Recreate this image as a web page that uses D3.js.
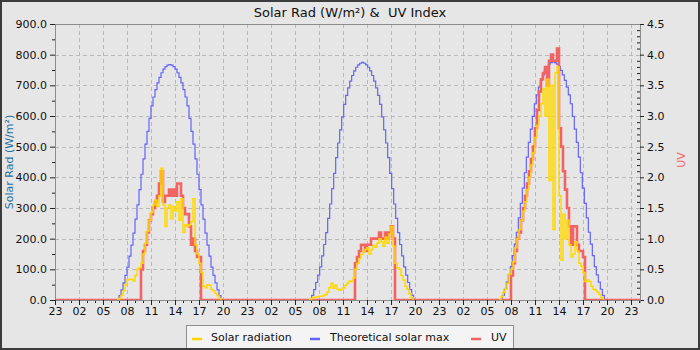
<!DOCTYPE html>
<html>
<head>
<meta charset="utf-8">
<script src="https://cdn.jsdelivr.net/npm/d3@7"></script>
<style>
  html, body { margin: 0; padding: 0; background: #e6e6e6; }
  svg { display: block; }
  text { font-family: "DejaVu Sans", sans-serif; }
</style>
</head>
<body>
<svg id="chart" width="700" height="350"></svg>
<script>
// ---- data (15-minute archive records, W/m² and UV index) ----
const rangeStart = "2024-06-10T23:00";
const rangeHours = 73.125;

const seriesNames = ["Solar radiation", "Theoretical solar max", "UV"];

const maxStart = ["2024-06-11T06:45", "2024-06-12T06:50", "2024-06-13T06:40"];
const maxDay1 = [0,14,33,56,80,107,143,179,218,264,310,360,410,460,508,550,592,633,662,686,708,726,741,753,761,766,768,766,761,753,741,726,708,686,662,633,592,550,508,460,410,360,310,264,218,179,143,107,80,56,33,14,0];
const maxDay2 = [0,15,34,57,81,108,144,181,220,266,313,363,413,464,512,555,597,638,667,692,714,732,747,759,767,772,775,772,767,759,747,732,714,692,667,638,597,555,512,464,413,363,313,266,220,181,144,108,81,57,34,15,0];
const maxDay3 = [0,15,35,58,82,109,145,182,221,268,315,365,415,466,514,557,599,640,669,694,716,734,749,761,769,774,777,774,769,761,749,734,716,694,669,640,599,557,514,466,415,365,315,268,221,182,145,109,82,58,35,15,0];

const solarStart = ["2024-06-11T06:45", "2024-06-12T06:45", "2024-06-13T06:30"];
const solarDay1 = [0,5,15,30,50,65,68,68,62,80,100,105,120,150,185,225,260,285,310,325,305,340,430,310,240,300,310,265,305,290,320,260,330,220,245,240,245,255,330,180,150,120,90,45,40,50,48,35,30,22,15,5,0];
const solarDay2 = [0,5,8,10,10,12,12,15,18,25,40,55,38,48,35,32,35,40,48,55,62,60,72,100,120,135,148,158,165,170,150,165,178,172,185,200,190,175,205,185,215,240,175,120,105,100,80,65,45,35,20,8,0];
const solarDay3 = [0,10,25,35,55,85,100,125,170,200,230,260,290,320,360,400,440,480,530,570,600,640,690,600,720,390,700,230,740,760,340,130,280,200,260,180,140,150,190,160,120,110,90,60,65,60,45,35,32,25,18,8,0];

const uvStart = ["2024-06-11T09:45", "2024-06-12T12:30", "2024-06-13T08:00"];
const uvDay1 = [0.5,0.8,0.9,1.1,1.3,1.4,1.5,1.6,1.7,1.9,2.1,1.6,1.7,1.7,1.8,1.7,1.8,1.7,1.9,1.9,1.7,1.5,1.4,1.4,1.2,0.9,1.0,0.8,0.7,0.7,0];
const uvDay2 = [0.6,0.7,0.8,0.9,0.9,0.8,0.9,0.9,1.0,1.0,1.0,1.0,1.1,1.0,1.0,1.1,1.0,1.1,1.2,1.0,0];
const uvDay3 = [0.4,0.6,0.8,1.0,1.1,1.3,1.5,1.7,1.9,2.1,2.3,2.5,2.8,3.1,3.4,3.6,3.7,3.8,3.5,3.9,4.0,3.9,3.9,4.1,2.8,2.5,2.1,1.8,1.5,1.2,0.9,1.2,1.2,0.9,0.8,0.8,0.7,0];

const radTicks = [0,100,200,300,400,500,600,700,800,900];
const uvTicks = [0,0.5,1.0,1.5,2.0,2.5,3.0,3.5,4.0,4.5];

// ---- layout ----
const W = 700, H = 350;
const plot = { left: 55, right: 640, top: 24, bottom: 300 };
const colors = { solar: "#ffd700", max: "#6464f8", uv: "#f26464" };

const STEP = 15 * 60 * 1000;
const toDate = s => new Date(Date.parse(s + ":00Z"));
const records = (start, vals) => vals.map((v, i) => ({ t: new Date(toDate(start).getTime() + i * STEP), v }));

const t0 = toDate(rangeStart);
const t1 = new Date(t0.getTime() + rangeHours * 3600e3);

const x = d3.scaleUtc().domain([t0, t1]).range([plot.left, plot.right]);
const yRad = d3.scaleLinear().domain([0, 900]).range([plot.bottom, plot.top]);
const yUV = d3.scaleLinear().domain([0, 4.5]).range([plot.bottom, plot.top]);

const svg = d3.select("#chart");

// background
svg.append("rect").attr("x", 0).attr("y", 0).attr("width", W).attr("height", H).attr("fill", "#e6e6e6");

// title
svg.append("text").attr("x", 350).attr("y", 17).attr("text-anchor", "middle")
  .attr("font-size", 13).attr("fill", "#111").style("white-space", "pre")
  .text("Solar Rad (W/m²) &  UV Index");

// hourly ticks, labelled every third hour (23, 02, 05 ...)
const hours = d3.utcHour.range(t0, new Date(t1.getTime() + 1));
const majorHours = hours.filter(d => (d.getUTCHours() + 1) % 3 === 0);
const minorHours = hours.filter(d => (d.getUTCHours() + 1) % 3 !== 0);

// grid
const grid = svg.append("g").attr("stroke", "#b9b9b9").attr("stroke-width", 1).attr("stroke-dasharray", "4,3").attr("fill", "none");
grid.selectAll("line.v").data(majorHours.filter(d => x(d) > plot.left + 1)).join("line")
  .attr("x1", d => Math.round(x(d)) + 0.5).attr("x2", d => Math.round(x(d)) + 0.5)
  .attr("y1", plot.top).attr("y2", plot.bottom);
grid.selectAll("line.h").data(radTicks.filter(v => v > 0 && v < 900)).join("line")
  .attr("x1", plot.left).attr("x2", plot.right)
  .attr("y1", d => Math.round(yRad(d)) + 0.5).attr("y2", d => Math.round(yRad(d)) + 0.5);

// series: stepped archive lines
const stepLine = (yScale) => d3.line().x(d => x(d.t)).y(d => yScale(d.v)).curve(d3.curveStepAfter);

const maxDays = [maxDay1, maxDay2, maxDay3].map((v, i) => records(maxStart[i], v));
const solarDays = [solarDay1, solarDay2, solarDay3].map((v, i) => records(solarStart[i], v));
const uvAll = [{ t: t0, v: 0 }]
  .concat(...[uvDay1, uvDay2, uvDay3].map((v, i) => records(uvStart[i], v)))
  .concat([{ t: t1, v: 0 }]);

svg.append("clipPath").attr("id", "plotclip").append("rect")
  .attr("x", plot.left).attr("y", plot.top - 2).attr("width", plot.right - plot.left).attr("height", plot.bottom - plot.top + 3);
const lines = svg.append("g").attr("clip-path", "url(#plotclip)").attr("fill", "none");

lines.selectAll("path.max").data(maxDays).join("path")
  .attr("d", stepLine(yRad)).attr("stroke", colors.max).attr("stroke-width", 1.2);
lines.append("path").datum(uvAll)
  .attr("d", stepLine(yUV)).attr("stroke", colors.uv).attr("stroke-width", 2.6);
lines.selectAll("path.solar").data(solarDays).join("path")
  .attr("d", stepLine(yRad)).attr("stroke", colors.solar).attr("stroke-width", 1.5);

// axes
const axisStyle = g => {
  g.select(".domain").attr("stroke", "#8c8c8c");
  g.selectAll(".tick line").attr("stroke", "#222");
  g.selectAll(".tick text").attr("fill", "#111").attr("font-size", 11).attr("font-family", "DejaVu Sans, sans-serif");
};

svg.append("g").attr("transform", `translate(${plot.left},0)`)
  .call(d3.axisLeft(yRad).tickValues(radTicks.slice(0, -1).map(v => v + 50)).tickSize(3).tickFormat(""))
  .call(axisStyle);
svg.append("g").attr("transform", `translate(${plot.left},0)`)
  .call(d3.axisLeft(yRad).tickValues(radTicks).tickSize(5).tickPadding(3).tickSizeOuter(0).tickFormat(d3.format(".1f")))
  .call(axisStyle);

const uvMinor = d3.range(0, 46).map(i => i / 10).filter(v => Math.round(v * 10) % 5 !== 0);
svg.append("g").attr("transform", `translate(${plot.right},0)`)
  .call(d3.axisRight(yUV).tickValues(uvMinor).tickSize(-3).tickFormat(""))
  .call(axisStyle);
svg.append("g").attr("transform", `translate(${plot.right},0)`)
  .call(d3.axisRight(yUV).tickValues(uvTicks).tickSize(4).tickPadding(3).tickSizeOuter(0).tickFormat(d3.format(".1f")))
  .call(axisStyle);

svg.append("g").attr("transform", `translate(0,${plot.bottom})`)
  .call(d3.axisBottom(x).tickValues(minorHours).tickSize(3).tickFormat(""))
  .call(axisStyle);
svg.append("g").attr("transform", `translate(0,${plot.bottom})`)
  .call(d3.axisBottom(x).tickValues(majorHours).tickSize(5).tickPadding(2).tickSizeOuter(0).tickFormat(d3.utcFormat("%H")))
  .call(axisStyle);

// top border of the plot
svg.append("line").attr("x1", plot.left).attr("x2", plot.right).attr("y1", plot.top + 0.5).attr("y2", plot.top + 0.5).attr("stroke", "#8c8c8c");

// axis titles
svg.append("text").attr("transform", "translate(13,162) rotate(-90)").attr("text-anchor", "middle")
  .attr("font-size", 11).attr("fill", "#23709f").text("Solar Rad (W/m²)");
svg.append("text").attr("transform", "translate(685,160) rotate(-90)").attr("text-anchor", "middle")
  .attr("font-size", 11).attr("fill", colors.uv).text("UV");

// legend
const legend = svg.append("g");
legend.append("rect").attr("x", 186.5).attr("y", 325.5).attr("width", 327).attr("height", 24)
  .attr("fill", "#f4f4f4").attr("stroke", "#8c8c8c");
const legendItems = [
  { name: seriesNames[0], color: colors.solar, lx: 192, tx: 211 },
  { name: seriesNames[1], color: colors.max, lx: 310, tx: 330 },
  { name: seriesNames[2], color: colors.uv, lx: 471, tx: 491 }
];
legend.selectAll("line").data(legendItems).join("line")
  .attr("x1", d => d.lx).attr("x2", d => d.lx + 10).attr("y1", 339).attr("y2", 339)
  .attr("stroke", d => d.color).attr("stroke-width", 2.5);
legend.selectAll("text").data(legendItems).join("text")
  .attr("x", d => d.tx).attr("y", 341).attr("font-size", 11).attr("fill", "#111").text(d => d.name);

// outer frame
svg.append("rect").attr("x", 1).attr("y", 1).attr("width", W - 2).attr("height", H - 2)
  .attr("fill", "none").attr("stroke", "#3c3c3c").attr("stroke-width", 2);
</script>
</body>
</html>
